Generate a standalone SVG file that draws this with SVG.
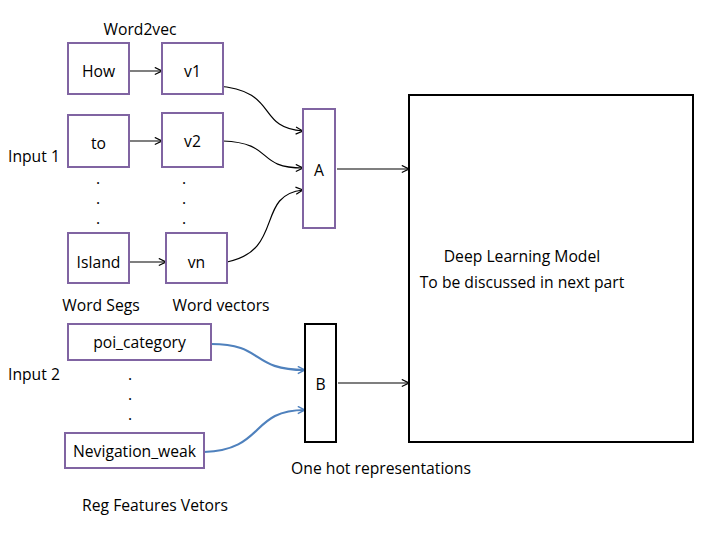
<svg xmlns="http://www.w3.org/2000/svg" width="720" height="540" viewBox="0 0 720 540">
<defs>
<style>
text{font-family:"Open Sans","Liberation Sans",sans-serif;font-size:15.7px;fill:#000}
.c{text-anchor:middle}
.p{fill:#fff;stroke:#8064a2;stroke-width:2}
.k{fill:#fff;stroke:#000;stroke-width:2}
.ln{fill:none;stroke:#000;stroke-width:1.2;marker-end:url(#ah)}
.bl{fill:none;stroke:#4f81bd;stroke-width:2.2;marker-end:url(#ab)}
</style>
<marker id="ah" viewBox="0 0 10 10" refX="9" refY="5" markerWidth="9" markerHeight="9" markerUnits="userSpaceOnUse" orient="auto"><path d="M1,1 L9,5 L1,9" fill="none" stroke="#000" stroke-width="1.3"/></marker>
<marker id="ab" viewBox="0 0 10 10" refX="9" refY="5" markerWidth="9" markerHeight="9" markerUnits="userSpaceOnUse" orient="auto"><path d="M1,1 L9,5 L1,9" fill="none" stroke="#4f81bd" stroke-width="1.6"/></marker>
</defs>
<rect width="720" height="540" fill="#fff"/>
<g id="labels">
<text x="140" y="35" class="c">Word2vec</text>
<text x="8" y="162">Input 1</text>
<text x="8" y="380">Input 2</text>
<text x="101" y="311" class="c">Word Segs</text>
<text x="221" y="311" class="c">Word vectors</text>
<text x="381" y="474" class="c">One hot representations</text>
<text x="155" y="511" class="c">Reg Features Vetors</text>
<text x="98" y="184" class="c">.</text><text x="98" y="204" class="c">.</text><text x="98" y="224" class="c">.</text>
<text x="184" y="184" class="c">.</text><text x="184" y="204" class="c">.</text><text x="184" y="224" class="c">.</text>
<text x="130" y="380" class="c">.</text><text x="130" y="400" class="c">.</text><text x="130" y="420" class="c">.</text>
</g>
<g id="connectors">
<path class="ln" d="M129,71 L162,71"/>
<path class="ln" d="M129,141 L162,141"/>
<path class="ln" d="M129,262 L166,262"/>
<path class="ln" d="M216,86 C280,90 255,128 303,131"/>
<path class="ln" d="M223,141 C275,143 255,168 303,168"/>
<path class="ln" d="M227,262 C285,250 255,195 303,190"/>
<path class="ln" d="M337,169 L409,169"/>
<path class="ln" d="M338,383 L409,383"/>
<path class="bl" d="M211,344 C265,344 250,370 305,370"/>
<path class="bl" d="M204,452 C265,450 250,410 305,410"/>
</g>
<g id="how"><rect class="p" x="68" y="43" width="61" height="51"/><text x="98.5" y="77" class="c">How</text></g>
<g id="v1"><rect class="p" x="162" y="43" width="61" height="51"/><text x="192.5" y="77" class="c">v1</text></g>
<g id="to"><rect class="p" x="68" y="115" width="61" height="52"/><text x="98.5" y="149" class="c">to</text></g>
<g id="v2"><rect class="p" x="162" y="113" width="61" height="54"/><text x="192.5" y="147" class="c">v2</text></g>
<g id="island"><rect class="p" x="68" y="233" width="61" height="50"/><text x="98.5" y="268" class="c">Island</text></g>
<g id="vn"><rect class="p" x="166" y="233" width="61" height="50"/><text x="196.5" y="268" class="c">vn</text></g>
<g id="A"><rect class="p" x="303" y="109" width="32" height="119"/><text x="319" y="176" class="c">A</text></g>
<g id="B"><rect class="k" x="305" y="324" width="31" height="118"/><text x="320.5" y="390" class="c">B</text></g>
<g id="poi"><rect class="p" x="68" y="324" width="143" height="36"/><text x="139.5" y="348" class="c">poi_category</text></g>
<g id="nev"><rect class="p" x="65" y="433" width="139" height="35"/><text x="134.5" y="457" class="c">Nevigation_weak</text></g>
<g id="model"><rect class="k" x="409" y="95" width="284" height="347"/><text x="522" y="262" class="c">Deep Learning Model</text><text x="522" y="288" class="c">To be discussed in next part</text></g>
</svg>
